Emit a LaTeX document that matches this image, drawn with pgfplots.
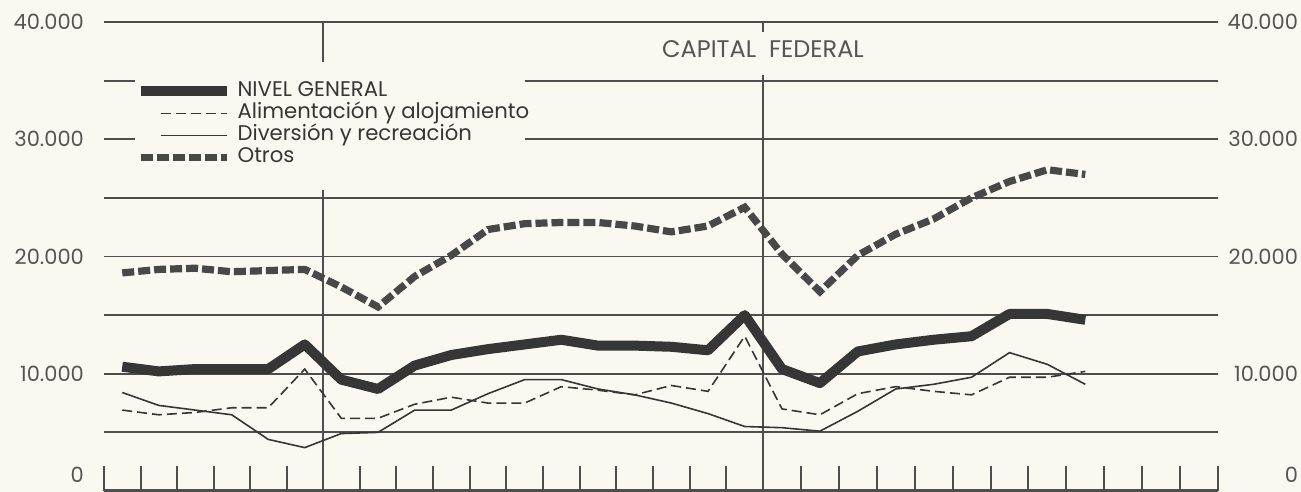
\documentclass[border=0pt]{standalone}
\usepackage{fontspec}
\setmainfont{Poppins}
\usepackage{pgfplots}
\usepackage{pgfplotstable}
\pgfplotsset{compat=1.18}
\definecolor{bg}{HTML}{FBF8F1}
\definecolor{ink}{HTML}{363636}
\definecolor{gridc}{HTML}{4E4E4E}
\definecolor{lbl}{HTML}{555555}
\definecolor{otros}{HTML}{484848}
\pgfplotsset{
  longleg/.style={legend image code/.code={\draw[##1] (0pt,0pt) -- (43pt,0pt);}},
  shortleg/.style={legend image code/.code={\draw[##1] (10pt,0pt) -- (43pt,0pt);}},
}

% x: position along the month scale (Jul of year 1 starts at 104, year ends at 323 and 763, axis ends at 1218)
\pgfplotstableread{
x       ng    alim  div   otros
122.25  10600 6900  8400  18600
158.75  10200 6500  7300  18900
195.25  10400 6700  6900  19000
231.75  10400 7100  6500  18700
268.25  10400 7100  4400  18800
304.75  12500 10400 3700  18900
341.3   9500  6200  4900  17400
378.0   8700  6200  5000  15700
414.7   10700 7400  6900  18300
451.3   11600 8000  6900  20100
488.0   12100 7500  8300  22300
524.7   12500 7500  9500  22800
561.3   12900 8900  9500  22900
598.0   12400 8600  8700  22900
634.7   12400 8200  8200  22600
671.3   12300 9000  7500  22100
708.0   12000 8500  6600  22600
744.7   15000 13200 5500  24200
782.0   10400 7000  5400  20200
819.9   9200  6500  5100  17000
857.8   11900 8300  6800  20100
895.7   12500 8900  8700  21900
933.6   12900 8500  9100  23200
971.5   13200 8200  9700  25000
1009.5  15100 9700  11800 26400
1047.4  15100 9700  10800 27400
1085.3  14600 10200 9100  27000
}\datatable

\begin{document}
\begin{tikzpicture}
\fill[bg] (0,0) rectangle (650.5pt,246pt);
\useasboundingbox (0,0) rectangle (650.5pt,246pt);
\begin{axis}[
  at={(52pt,0.5pt)}, anchor=south west, scale only axis,
  width=557pt, height=234.5pt,
  xmin=104, xmax=1218, ymin=0, ymax=40000,
  axis line style={draw=none},
  scaled x ticks=false, scaled y ticks=false,
  xtick={104,140.5,177,213.5,250,286.5,323,359.7,396.3,433,469.7,506.3,543,579.7,616.3,653,689.7,726.3,763,800.9,838.8,876.8,914.7,952.6,990.5,1028.4,1066.3,1104.3,1142.2,1180.1,1218},
  xticklabels={},
  xtick pos=left, tick align=inside,
  major tick length=12.5pt,
  xtick style={draw=gridc, line width=1pt},
  ytick={0,10000,20000,30000,40000},
  yticklabels={\raisebox{4pt}[0pt][0pt]{0},10.000,20.000,30.000,40.000},
  ytick style={draw=none},
  minor ytick={5000,15000,25000,35000},
  ymajorgrids, yminorgrids,
  major grid style={draw=gridc, line width=0.9pt},
  minor grid style={draw=gridc, line width=0.9pt},
  yticklabel pos=left,
  yticklabel style={font=\fontsize{10.5}{12}\selectfont, text=lbl, xshift=-6.5pt},
  legend cell align=left,
  legend style={draw=none, fill=none, at={(0.028,0.872)}, anchor=north west,
    font=\fontsize{10.6}{11}\selectfont, text=ink, inner sep=0pt,
    row sep=2pt, column sep=3pt,
    nodes={inner sep=0pt, text height=7pt, text depth=2pt}},
]
\draw[gridc, line width=0.9pt] (axis cs:323,0) -- (axis cs:323,40000);
\draw[gridc, line width=0.9pt] (axis cs:763,0) -- (axis cs:763,40000);
\fill[bg] (axis cs:135,36600) rectangle (axis cs:525,25700);
\fill[bg] (axis cs:752,39150) rectangle (axis cs:774,35500);
\draw[gridc, line width=1.5pt] (axis cs:104,40000) -- (axis cs:1218,40000);
\draw[gridc, line width=1.6pt] (axis cs:104,0) -- (axis cs:1218,0);
\addplot[ink, line width=5pt, line join=round, longleg] table[x=x, y=ng] {\datatable};
\addlegendentry{NIVEL GENERAL}
\addplot[ink, line width=0.8pt, dash pattern=on 5pt off 2.5pt, shortleg] table[x=x, y=alim] {\datatable};
\addlegendentry{Alimentación y alojamiento}
\addplot[ink, line width=0.8pt, shortleg] table[x=x, y=div] {\datatable};
\addlegendentry{Diversión y recreación}
\addplot[otros, line width=3.6pt, dash pattern=on 6pt off 2pt, longleg] table[x=x, y=otros] {\datatable};
\addlegendentry{Otros}
\node[font=\fontsize{12}{14}\selectfont, text=lbl] at (axis cs:763,37700) {CAPITAL\ \ FEDERAL};
\end{axis}
\begin{axis}[
  at={(52pt,0.5pt)}, anchor=south west, scale only axis,
  width=557pt, height=234.5pt,
  xmin=104, xmax=1218, ymin=0, ymax=40000,
  axis line style={draw=none}, hide x axis,
  scaled y ticks=false,
  ytick={0,10000,20000,30000,40000},
  yticklabels={\raisebox{4pt}[0pt][0pt]{0},10.000,20.000,30.000,40.000},
  ytick style={draw=none},
  yticklabel pos=right,
  yticklabel style={font=\fontsize{10.5}{12}\selectfont, text=lbl, anchor=east, xshift=43.5pt},
]
\addplot[draw=none] coordinates {(104,0)};
\end{axis}
\end{tikzpicture}
\end{document}
